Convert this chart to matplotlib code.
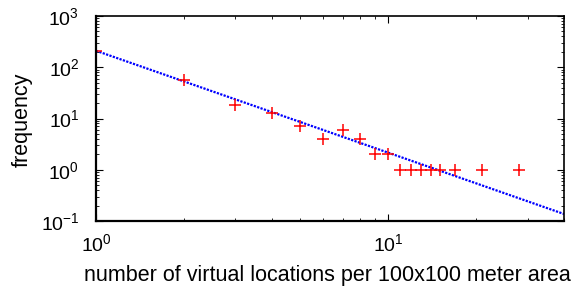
#!/usr/bin/env python3
import matplotlib
matplotlib.use('Agg')
import matplotlib.pyplot as plt
from matplotlib.ticker import LogLocator, NullFormatter

text_size = 14

# observed frequencies
locations = [1, 2, 3, 4, 5, 6, 7, 8, 9, 10, 11, 12, 13, 14, 15, 17, 21, 28]
frequency = [210, 56, 18, 13, 7, 4, 6, 4, 2, 2, 1, 1, 1, 1, 1, 1, 1, 1]

# power-law fit (end points)
fit_x = [1, 40]
fit_y = [210, 0.137]

def main():
  plt.rcParams['font.family'] = ['Liberation Sans', 'DejaVu Sans']
  plt.rcParams['mathtext.fontset'] = 'custom'
  plt.rcParams['mathtext.rm'] = 'Liberation Sans'
  plt.rcParams['mathtext.it'] = 'Liberation Sans'

  fig = plt.figure(figsize=(5.81, 2.90), dpi=100)
  ax = fig.add_axes([96 / 581, 1 - 221 / 290, 468 / 581, 205 / 290])

  ax.plot(fit_x, fit_y, color='#0000ff', linestyle=(0, (1, 0.6)), linewidth=1.6)
  ax.plot(locations, frequency, linestyle='none', marker='+', color='#ff0000',
          markersize=9, markeredgewidth=1.1)

  ax.set_xscale('log')
  ax.set_yscale('log')
  ax.set_xlim(1, 40)
  ax.set_ylim(0.1, 1000)

  ax.xaxis.set_major_locator(LogLocator(base=10))
  ax.yaxis.set_major_locator(LogLocator(base=10))
  ax.xaxis.set_minor_locator(LogLocator(base=10, subs=range(2, 10)))
  ax.yaxis.set_minor_locator(LogLocator(base=10, subs=range(2, 10)))
  ax.xaxis.set_minor_formatter(NullFormatter())
  ax.yaxis.set_minor_formatter(NullFormatter())

  ax.tick_params(which='both', direction='in', top=True, right=True)
  ax.tick_params(which='major', length=5, width=0.8, labelsize=text_size)
  ax.tick_params(which='minor', length=2.5, width=0.6)
  ax.tick_params(axis='x', which='major', pad=9)
  ax.tick_params(axis='y', which='major', pad=12)
  for sp in ax.spines.values():
    sp.set_linewidth(1.2)
  ax.spines['left'].set_linewidth(1.6)
  ax.spines['bottom'].set_linewidth(1.6)

  ax.set_xlabel('number of virtual locations per 100x100 meter area', fontsize=15.5, va='top')
  ax.xaxis.set_label_coords(0.495, -0.213)
  ax.set_ylabel('frequency', fontsize=15.5)
  ax.yaxis.set_label_coords(-0.135, 0.495)

  fig.savefig('out.png', dpi=100)

if __name__ == '__main__':
  main()
